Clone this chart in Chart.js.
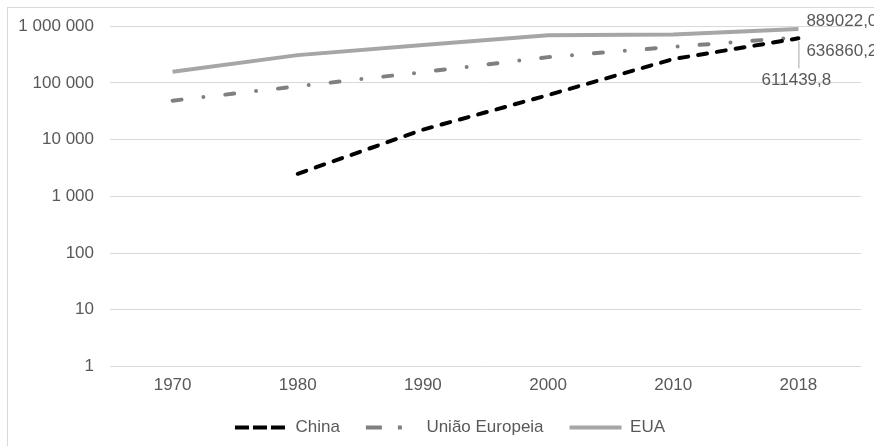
<!DOCTYPE html>
<html>
<head>
<meta charset="utf-8">
<script src="https://cdn.jsdelivr.net/npm/chart.js@4/dist/chart.umd.min.js"></script>
<style>
  html, body { margin: 0; padding: 0; background: #fff; }
  #wrap { width: 874px; height: 446px; position: relative; }
</style>
</head>
<body>
<div id="wrap"><canvas id="c" width="874" height="446"></canvas></div>
<script>
// Categories (years) and series values
const years = ['1970', '1980', '1990', '2000', '2010', '2018'];
const china = [null, 2500, 15000, 61000, 263000, 611439.8];
const uniaoEuropeia = [48700, 87000, 155000, 285000, 433000, 636860.2];
const eua = [157000, 309000, 464000, 695000, 715000, 889022.0];
const yTicks = [1, 10, 100, 1000, 10000, 100000, 1000000];

const FONT = "'Liberation Sans', Arial, sans-serif";
const TEXT = '#595959';

// Thousands separated by a space: 1 000 000
function fmtTick(v) {
  return String(Math.round(v)).replace(/\B(?=(\d{3})+(?!\d))/g, ' ');
}
// Decimal comma: 889022,0
function fmtValue(v) {
  return v.toFixed(1).replace('.', ',');
}

// White background plus the thin frame around the chart
const frame = {
  id: 'frame',
  beforeDraw(chart) {
    const ctx = chart.ctx;
    ctx.save();
    ctx.fillStyle = '#fff';
    ctx.fillRect(0, 0, chart.width, chart.height);
    ctx.strokeStyle = '#d9d9d9';
    ctx.lineWidth = 1;
    ctx.strokeRect(7.5, 7.5, chart.width + 20, chart.height + 20);
    ctx.restore();
  }
};

// Legend row sits a little right of the full-width centre
const legendShift = {
  id: 'legendShift',
  afterLayout(chart) {
    if (chart.legend) chart.legend.left = 39;
  }
};

// Value labels at the last year of each series
const lastLabels = {
  id: 'lastLabels',
  afterDatasetsDraw(chart) {
    const ctx = chart.ctx;
    ctx.save();
    ctx.font = '17px ' + FONT;
    ctx.fillStyle = TEXT;
    ctx.textBaseline = 'middle';
    chart.data.datasets.forEach((ds, i) => {
      const meta = chart.getDatasetMeta(i);
      const idx = ds.data.length - 1;
      const pt = meta.data[idx];
      if (!pt) return;
      const txt = fmtValue(ds.data[idx]);
      const place = ds.labelPlace;
      if (place === 'above') {
        ctx.textAlign = 'left';
        ctx.fillText(txt, pt.x + 8, pt.y - 8);
      } else if (place === 'below') {
        ctx.textAlign = 'left';
        ctx.fillText(txt, pt.x + 8, pt.y + 14);
      } else if (place === 'leader') {
        ctx.strokeStyle = '#a6a6a6';
        ctx.lineWidth = 1;
        ctx.beginPath();
        ctx.moveTo(pt.x + 0.5, pt.y + 3);
        ctx.lineTo(pt.x + 0.5, pt.y + 30);
        ctx.stroke();
        ctx.textAlign = 'center';
        ctx.fillText(txt, pt.x - 2, pt.y + 42);
      }
    });
    ctx.restore();
  }
};

new Chart(document.getElementById('c'), {
  type: 'line',
  data: {
    labels: years,
    datasets: [
      {
        label: 'China',
        data: china,
        borderColor: '#000000',
        backgroundColor: '#000000',
        borderWidth: 4,
        borderDash: [9, 10],
        borderCapStyle: 'round',
        legendDash: [14, 4],
        pointRadius: 0,
        labelPlace: 'leader'
      },
      {
        label: 'União Europeia',
        data: uniaoEuropeia,
        borderColor: '#808080',
        backgroundColor: '#808080',
        borderWidth: 4,
        borderDash: [9, 22, 0, 22],
        borderCapStyle: 'round',
        legendDash: [16, 16, 4, 16],
        pointRadius: 0,
        labelPlace: 'below'
      },
      {
        label: 'EUA',
        data: eua,
        borderColor: '#a6a6a6',
        backgroundColor: '#a6a6a6',
        borderWidth: 4,
        legendDash: [],
        pointRadius: 0,
        labelPlace: 'above'
      }
    ]
  },
  options: {
    responsive: false,
    animation: false,
    devicePixelRatio: 1,
    layout: { padding: { left: 0, right: 13, top: 26, bottom: 0 } },
    plugins: {
      legend: {
        position: 'bottom',
        labels: {
          usePointStyle: true,
          pointStyle: 'line',
          pointStyleWidth: 52,
          padding: 26,
          color: TEXT,
          font: { family: FONT, size: 17 },
          generateLabels(chart) {
            const items = Chart.defaults.plugins.legend.labels.generateLabels(chart);
            items.forEach(item => {
              const ds = chart.data.datasets[item.datasetIndex];
              item.lineDash = ds.legendDash;
              item.lineCap = 'butt';
              item.lineWidth = 4;
              item.strokeStyle = ds.borderColor;
              item.fillStyle = ds.borderColor;
              item.pointStyle = 'line';
            });
            return items;
          }
        }
      },
      tooltip: { enabled: false }
    },
    scales: {
      x: {
        offset: true,
        grid: { display: false, drawTicks: false },
        border: { display: false },
        ticks: { color: TEXT, font: { family: FONT, size: 17 }, padding: 9 },
        afterFit(s) { s.height = 26.5; }
      },
      y: {
        type: 'logarithmic',
        min: 1,
        max: 1000000,
        grid: { color: '#d9d9d9', lineWidth: 1, drawTicks: false },
        border: { display: false },
        afterBuildTicks(s) { s.ticks = yTicks.map(v => ({ value: v })); },
        ticks: {
          color: TEXT,
          font: { family: FONT, size: 17 },
          padding: 16,
          callback: (v) => fmtTick(v)
        },
        afterFit(s) { s.width = 110; }
      }
    }
  },
  plugins: [frame, legendShift, lastLabels]
});
</script>
</body>
</html>
